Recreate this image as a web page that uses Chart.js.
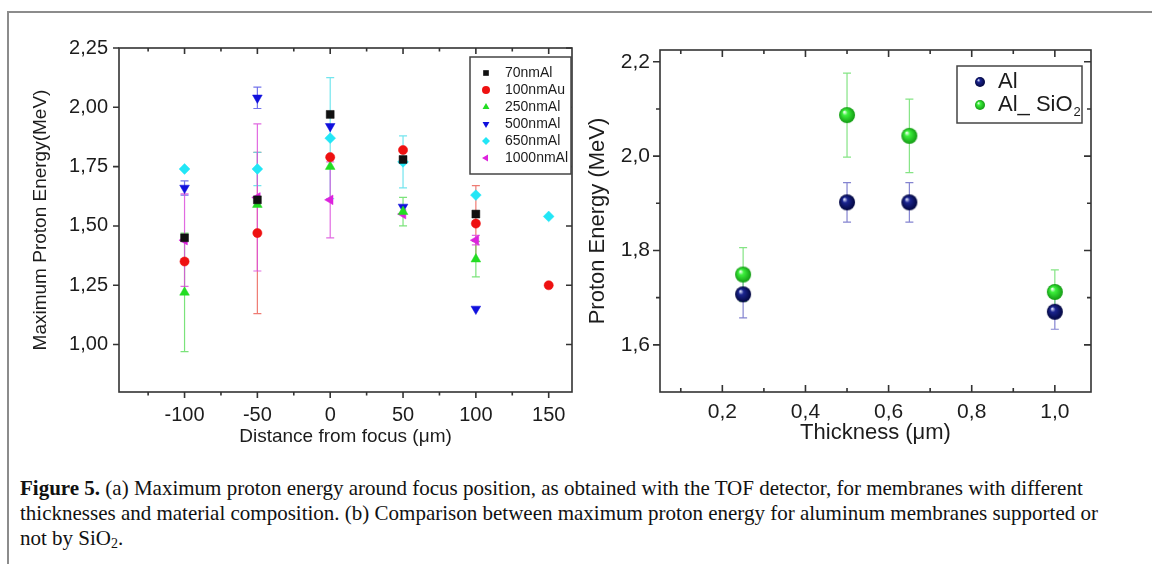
<!DOCTYPE html>
<html>
<head>
<meta charset="utf-8">
<script src="https://cdn.jsdelivr.net/npm/chart.js@4.4.1/dist/chart.umd.min.js"></script>
<style>
  body { margin: 0; width: 1152px; height: 564px; background: #fff; position: relative; overflow: hidden; }
  #frameTop { position: absolute; left: 7px; top: 11px; width: 1145px; border-top: 2px solid #8c8c8c; }
  #frameLeft { position: absolute; left: 7px; top: 11px; height: 553px; border-left: 2px solid #8c8c8c; }
  #left { position: absolute; left: 10px; top: 14px; }
  #right { position: absolute; left: 585px; top: 14px; }
  #caption { position: absolute; left: 20px; top: 476px; font-family: "Liberation Serif", "DejaVu Serif", serif;
             font-size: 21px; line-height: 25px; color: #111; white-space: nowrap; }
  #caption sub { font-size: 14px; vertical-align: -3px; line-height: 0; }
</style>
</head>
<body>
<div id="frameTop"></div>
<div id="frameLeft"></div>
<canvas id="left" width="575" height="450"></canvas>
<canvas id="right" width="567" height="450"></canvas>
<div id="caption">
  <div><b>Figure 5.</b> (a) Maximum proton energy around focus position, as obtained with the TOF detector, for membranes with different</div>
  <div>thicknesses and material composition. (b) Comparison between maximum proton energy for aluminum membranes supported or</div>
  <div>not by SiO<sub>2</sub>.</div>
</div>
<script>
// (a) energy vs distance from focus
const distances = [-100, -50, 0, 50, 100, 150];
const e70nmAl   = [1.45, 1.61, 1.97, 1.78, 1.55, null];
const e100nmAu  = [1.35, 1.47, 1.79, 1.82, 1.51, 1.25];
const e250nmAl  = [1.22, 1.59, 1.75, 1.56, 1.36, null];
const e500nmAl  = [1.66, 2.04, 1.92, 1.58, 1.15, null];
const e650nmAl  = [1.74, 1.74, 1.87, 1.77, 1.63, 1.54];
const e1000nmAl = [1.44, 1.62, 1.61, 1.55, 1.44, null];
// half length of the error bars
const err70nmAl   = [0, 0, 0, 0, 0, 0];
const err100nmAu  = [0, 0.34, 0, 0, 0.16, 0];
const err250nmAl  = [0.25, 0, 0, 0.06, 0.075, 0];
const err500nmAl  = [0.03, 0.045, 0, 0, 0, 0];
const err650nmAl  = [0, 0.07, 0.255, 0.11, 0, 0];
const err1000nmAl = [0.195, 0.31, 0.16, 0, 0.02, 0];
const distTicks = [-100, -50, 0, 50, 100, 150];
const distMinor = [-125, -75, -25, 25, 75, 125];
const energyTicksA = [1.00, 1.25, 1.50, 1.75, 2.00, 2.25];

// (b) energy vs thickness
const thickness = [0.25, 0.5, 0.65, 1.0];
const energyAl = [1.707, 1.902, 1.902, 1.670];
const errAl = [0.05, 0.042, 0.042, 0.037];
const energyAlSiO2 = [1.749, 2.087, 2.043, 1.712];
const errAlSiO2 = [0.057, 0.089, 0.078, 0.047];
const thickTicks = [0.2, 0.4, 0.6, 0.8, 1.0];
const thickMinor = [0.1, 0.3, 0.5, 0.7, 0.9];
const energyTicksB = [1.6, 1.8, 2.0, 2.2];
const energyMinorB = [1.7, 1.9, 2.1];

const FONT = '"Liberation Sans", Arial, sans-serif';
const INK = '#1c1c1c';

function pts(xs, ys) {
    return xs.map((x, i) => ({ x: x, y: ys[i] })).filter(p => p.y != null);
}
function errs(ys, es) {
    return es.filter((e, i) => ys[i] != null);
}

function sphere(r, light, base, dark) {
    const c = document.createElement('canvas');
    c.width = c.height = 2 * r + 2;
    const g = c.getContext('2d');
    const m = r + 1;
    const grad = g.createRadialGradient(m - r * 0.35, m - r * 0.4, r * 0.05, m, m, r);
    grad.addColorStop(0, light);
    grad.addColorStop(0.3, base);
    grad.addColorStop(1, dark);
    g.fillStyle = grad;
    g.beginPath();
    g.arc(m, m, r, 0, Math.PI * 2);
    g.fill();
    return c;
}

// vertical error bars with caps
const errorBars = {
    id: 'errorBars',
    beforeDatasetsDraw(chart) {
        const { ctx, scales: { x, y } } = chart;
        ctx.save();
        chart.data.datasets.forEach(ds => {
            if (!ds.errors) return;
            ctx.strokeStyle = ds.errColor;
            ctx.lineWidth = 1.2;
            ds.data.forEach((p, i) => {
                const e = ds.errors[i];
                if (!e) return;
                const px = x.getPixelForValue(p.x);
                const y1 = y.getPixelForValue(p.y + e);
                const y2 = y.getPixelForValue(p.y - e);
                const c = ds.capHalf;
                ctx.beginPath();
                ctx.moveTo(px, y1); ctx.lineTo(px, y2);
                ctx.moveTo(px - c, y1); ctx.lineTo(px + c, y1);
                ctx.moveTo(px - c, y2); ctx.lineTo(px + c, y2);
                ctx.stroke();
            });
        });
        ctx.restore();
    }
};

// box around the plot with major / minor ticks on all four sides
const frameTicks = {
    id: 'frameTicks',
    beforeDatasetsDraw(chart, args, o) {
        const { ctx, chartArea: a, scales: { x, y } } = chart;
        ctx.save();
        ctx.strokeStyle = '#333';
        ctx.lineWidth = 1.6;
        ctx.beginPath();
        const tickX = (vals, len) => vals.forEach(v => {
            const px = x.getPixelForValue(v);
            ctx.moveTo(px, a.bottom); ctx.lineTo(px, a.bottom + (o.bottomOut ? len : -len));
            ctx.moveTo(px, a.top); ctx.lineTo(px, a.top + len);
        });
        const tickY = (vals, len) => vals.forEach(v => {
            const py = y.getPixelForValue(v);
            ctx.moveTo(a.left, py); ctx.lineTo(a.left - len, py);
            ctx.moveTo(a.right, py); ctx.lineTo(a.right - len, py);
        });
        tickX(o.xMajor, o.major); tickX(o.xMinor, o.minor);
        tickY(o.yMajor, o.major); tickY(o.yMinor, o.minor);
        ctx.stroke();
        ctx.strokeRect(a.left, a.top, a.right - a.left, a.bottom - a.top);
        ctx.restore();
    }
};

// legend box drawn inside the plot area
const boxLegend = {
    id: 'boxLegend',
    afterDatasetsDraw(chart, args, o) {
        const { ctx, chartArea: a } = chart;
        const bx = a.right - o.dx - o.w, by = a.top + o.dy;
        ctx.save();
        ctx.fillStyle = '#fff';
        ctx.fillRect(bx, by, o.w, o.h);
        ctx.strokeStyle = '#444';
        ctx.lineWidth = 1.5;
        ctx.strokeRect(bx, by, o.w, o.h);
        ctx.font = o.size + 'px ' + FONT;
        ctx.textBaseline = 'middle';
        chart.data.datasets.forEach((ds, i) => {
            const cy = by + o.first + i * o.step;
            ctx.fillStyle = ds.pointBackgroundColor;
            ctx.strokeStyle = ds.pointBackgroundColor;
            Chart.helpers.drawPoint(ctx, {
                pointStyle: ds.legendStyle || ds.pointStyle, rotation: ds.rotation || 0,
                radius: o.radius, borderWidth: 0
            }, bx + o.mx, cy);
            ctx.fillStyle = INK;
            const parts = ds.label.split('₂');
            let tx = bx + o.tx;
            ctx.fillText(parts[0], tx, cy);
            if (parts.length > 1) {
                tx += ctx.measureText(parts[0]).width;
                ctx.font = Math.round(o.size * 0.6) + 'px ' + FONT;
                ctx.fillText('2', tx + 1, cy + o.size * 0.35);
                ctx.font = o.size + 'px ' + FONT;
            }
        });
        ctx.restore();
    }
};

function markerSet(label, ys, es, style, color, errColor, radius, rotation) {
    return {
        label: label,
        data: pts(distances, ys),
        errors: errs(ys, es),
        errColor: errColor,
        capHalf: 4,
        pointStyle: style,
        rotation: rotation || 0,
        pointRadius: radius,
        pointBackgroundColor: color,
        pointBorderColor: color,
        pointBorderWidth: 0.5,
        showLine: false
    };
}

new Chart(document.getElementById('left'), {
    type: 'scatter',
    data: {
        datasets: [
            markerSet('70nmAl', e70nmAl, err70nmAl, 'rect', '#111111', '#666', 5.6),
            markerSet('100nmAu', e100nmAu, err100nmAu, 'circle', '#ee1111', 'rgba(235,90,80,0.8)', 4.6),
            markerSet('250nmAl', e250nmAl, err250nmAl, 'triangle', '#22dd22', 'rgba(90,220,90,0.8)', 5.6),
            markerSet('500nmAl', e500nmAl, err500nmAl, 'triangle', '#1010dd', 'rgba(80,80,230,0.8)', 5.6, 180),
            markerSet('650nmAl', e650nmAl, err650nmAl, 'rectRot', '#22e6f6', 'rgba(90,225,235,0.85)', 5.4),
            markerSet('1000nmAl', e1000nmAl, err1000nmAl, 'triangle', '#dd22dd', 'rgba(220,80,220,0.85)', 5.6, -90)
        ]
    },
    options: {
        responsive: false,
        animation: false,
        events: [],
        layout: { padding: { top: 34, right: 13, left: 0, bottom: 0 } },
        scales: {
            x: {
                type: 'linear', min: -145, max: 166,
                afterBuildTicks: s => { s.ticks = distTicks.map(v => ({ value: v })); },
                afterFit: s => { s.height = 72; },
                grid: { display: false, drawTicks: false },
                border: { display: false },
                ticks: { color: INK, font: { family: FONT, size: 20 }, padding: 11, callback: v => String(v) },
                title: { display: true, text: 'Distance from focus (μm)', color: INK,
                         font: { family: FONT, size: 19, lineHeight: 1.2 }, padding: { top: 0, bottom: 16 } }
            },
            y: {
                type: 'linear', min: 0.8, max: 2.25,
                afterBuildTicks: s => { s.ticks = energyTicksA.map(v => ({ value: v })); },
                afterFit: s => { s.width = 109; },
                grid: { display: false, drawTicks: false },
                border: { display: false },
                ticks: { color: INK, font: { family: FONT, size: 20 }, padding: 11,
                         callback: v => v.toFixed(2).replace('.', ',') },
                title: { display: true, text: 'Maximum Proton Energy(MeV)', color: INK,
                         font: { family: FONT, size: 19, lineHeight: 1.2 }, padding: { top: 19, bottom: 0 } }
            }
        },
        plugins: {
            legend: { display: false },
            tooltip: { enabled: false },
            frameTicks: { xMajor: distTicks, xMinor: distMinor, yMajor: energyTicksA, yMinor: [],
                          major: 6, minor: 3.5, bottomOut: true },
            boxLegend: { dx: 1, dy: 9, w: 101, h: 117, first: 16, step: 17, mx: 16, tx: 35, size: 14, radius: 4 }
        }
    },
    plugins: [frameTicks, errorBars, boxLegend]
});

const blueBall = sphere(8, '#dfe4ff', '#1b2590', '#02063f');
const greenBall = sphere(8, '#f2fff2', '#3cf03c', '#139a13');
const blueDot = sphere(5, '#dfe4ff', '#1b2590', '#02063f');
const greenDot = sphere(5, '#f2fff2', '#3cf03c', '#139a13');

new Chart(document.getElementById('right'), {
    type: 'scatter',
    data: {
        datasets: [
            { label: 'Al', data: pts(thickness, energyAl), errors: errAl, errColor: 'rgba(110,110,200,0.85)', capHalf: 4,
              pointStyle: blueBall, legendStyle: blueDot, pointBackgroundColor: '#1b2590', showLine: false },
            { label: 'Al_ SiO₂', data: pts(thickness, energyAlSiO2), errors: errAlSiO2, errColor: 'rgba(120,225,120,0.9)', capHalf: 4,
              pointStyle: greenBall, legendStyle: greenDot, pointBackgroundColor: '#3cf03c', showLine: false }
        ]
    },
    options: {
        responsive: false,
        animation: false,
        events: [],
        layout: { padding: { top: 36, right: 61, left: 0, bottom: 0 } },
        scales: {
            x: {
                type: 'linear', min: 0.05, max: 1.087,
                afterBuildTicks: s => { s.ticks = thickTicks.map(v => ({ value: v })); },
                afterFit: s => { s.height = 72; },
                grid: { display: false, drawTicks: false },
                border: { display: false },
                ticks: { color: INK, font: { family: FONT, size: 21 }, padding: 8,
                         callback: v => v.toFixed(1).replace('.', ',') },
                title: { display: true, text: 'Thickness (μm)', color: INK,
                         font: { family: FONT, size: 22, lineHeight: 1.2 }, padding: { top: 0, bottom: 18 } }
            },
            y: {
                type: 'linear', min: 1.5, max: 2.225,
                afterBuildTicks: s => { s.ticks = energyTicksB.map(v => ({ value: v })); },
                afterFit: s => { s.width = 75; },
                grid: { display: false, drawTicks: false },
                border: { display: false },
                ticks: { color: INK, font: { family: FONT, size: 21 }, padding: 10,
                         callback: v => v.toFixed(1).replace('.', ',') },
                title: { display: true, text: 'Proton Energy (MeV)', color: INK,
                         font: { family: FONT, size: 22, lineHeight: 1.2 }, padding: { top: 0, bottom: 0 } }
            }
        },
        plugins: {
            legend: { display: false },
            tooltip: { enabled: false },
            frameTicks: { xMajor: thickTicks, xMinor: thickMinor, yMajor: energyTicksB, yMinor: energyMinorB,
                          major: 7, minor: 4, bottomOut: false },
            boxLegend: { dx: 9, dy: 16, w: 125, h: 57, first: 16, step: 23, mx: 23, tx: 41, size: 22, radius: 5 }
        }
    },
    plugins: [frameTicks, errorBars, boxLegend]
});
</script>
</body>
</html>
